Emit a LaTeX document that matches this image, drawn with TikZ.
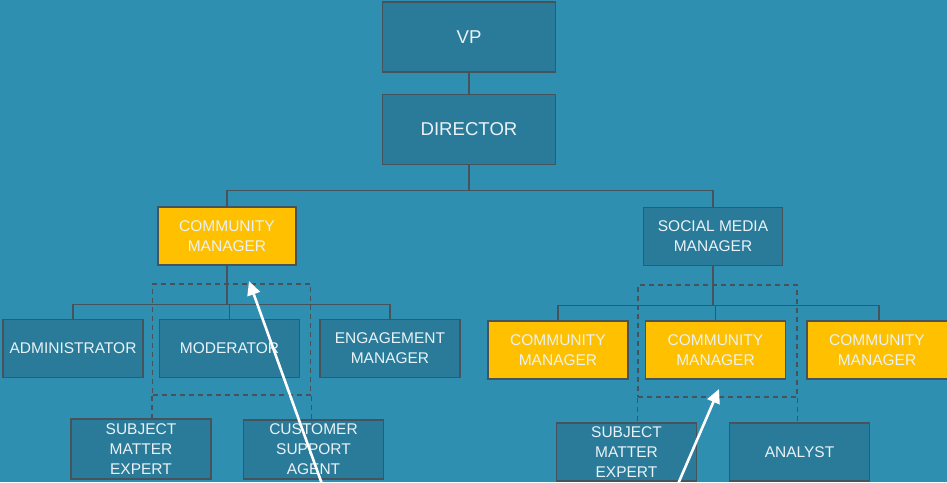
\documentclass[tikz,border=0pt]{standalone}
\usepackage{fontspec}
\setmainfont{Liberation Sans}
\usetikzlibrary{arrows.meta}
\definecolor{bg}{HTML}{2E8FB1}
\definecolor{boxfill}{HTML}{2A7B99}
\definecolor{gold}{HTML}{FFC000}
\definecolor{edge}{HTML}{46525C}
\definecolor{txt}{HTML}{E9F2F6}
\begin{document}
\begin{tikzpicture}[x=1pt,y=-1pt,
  role/.style={draw=edge, line width=1.4pt, fill=boxfill, text=txt, align=center,
    inner sep=0pt, minimum width=140pt, minimum height=58pt,
    font=\fontsize{15.5}{20}\selectfont},
  lead/.style={role, fill=gold},
  top/.style={role, minimum width=173pt, minimum height=70pt,
    font=\fontsize{18.6}{22}\selectfont},
  link/.style={draw=edge, line width=1.4pt},
  group/.style={draw=edge, line width=1.4pt, dash pattern=on 5pt off 4pt},
  pointer/.style={draw=white, line width=2.6pt, -{Triangle[length=14pt,width=13pt]}}]
  \fill[bg] (0,0) rectangle (947,482);
  \useasboundingbox (0,0) rectangle (947,482);

  % top of the hierarchy
  \node[top] (vp)  at (469,37)  {VP};
  \node[top] (dir) at (469,129.5) {DIRECTOR};

  % second level
  \node[lead, minimum width=138pt] (cm)  at (227,236) {COMMUNITY\\MANAGER};
  \node[role, minimum width=139pt] (smm) at (713,236.5) {SOCIAL MEDIA\\MANAGER};

  % left team
  \node[role] (adm) at (73,348.5)  {ADMINISTRATOR};
  \node[role] (mod) at (229.5,348.5) {MODERATOR};
  \node[role] (eng) at (390,348.5) {ENGAGEMENT\\MANAGER};
  \node[role, minimum height=60pt] (smeL) at (141,449) {SUBJECT\\MATTER\\EXPERT};
  \node[role, minimum height=59pt] (csa)  at (313.5,449.5) {CUSTOMER\\SUPPORT\\AGENT};

  % right team (the last box runs past the right edge)
  \node[lead] (cm1) at (558,350) {COMMUNITY\\MANAGER};
  \node[lead] (cm2) at (715.5,350) {COMMUNITY\\MANAGER};
  \node[lead, minimum width=152pt] (cm3) at (883,350)
    {COMMUNITY\hspace*{12pt}\\MANAGER\hspace*{12pt}};
  \node[role] (smeR) at (626.5,452) {SUBJECT\\MATTER\\EXPERT};
  \node[role] (ana)  at (799.5,452) {ANALYST};

  % reporting lines
  \draw[link] (vp.south) -- (vp.south |- dir.north);
  \draw[link] (dir.south) -- ++(0,25) -| (cm.north);
  \draw[link] (dir.south) -- ++(0,25) -| (smm.north);
  \draw[link] (cm.south) -- ++(0,39) -| (adm.north);
  \draw[link] (cm.south) -- ++(0,39) -| (mod.north);
  \draw[link] (cm.south) -- ++(0,39) -| (eng.north);
  \draw[link] (smm.south) -- ++(0,39) -| (cm1.north);
  \draw[link] (smm.south) -- ++(0,39) -| (cm2.north);
  \draw[link] (smm.south) -- ++(0,39) -| ([xshift=-4pt]cm3.north);

  % dashed groupings
  \node[group, minimum width=158pt, minimum height=111pt, inner sep=0pt] (gL) at (231.5,339.5) {};
  \node[group, minimum width=159pt, minimum height=112pt, inner sep=0pt] (gR) at (717.5,341) {};
  \draw[group] (gL.south west) -- (gL.south west |- smeL.north);
  \draw[group] (gL.south east) -- (gL.south east |- csa.north);
  \draw[group] (gR.south west) -- (gR.south west |- smeR.north);
  \draw[group] (gR.south east) -- (gR.south east |- ana.north);

  % pointers
  \coordinate (p1) at (322,484);
  \coordinate (t1) at (249,281);
  \coordinate (p2) at (678,484);
  \coordinate (t2) at (719,389);
  \draw[pointer] (p1) -- (t1);
  \draw[pointer] (p2) -- (t2);
\end{tikzpicture}
\end{document}
